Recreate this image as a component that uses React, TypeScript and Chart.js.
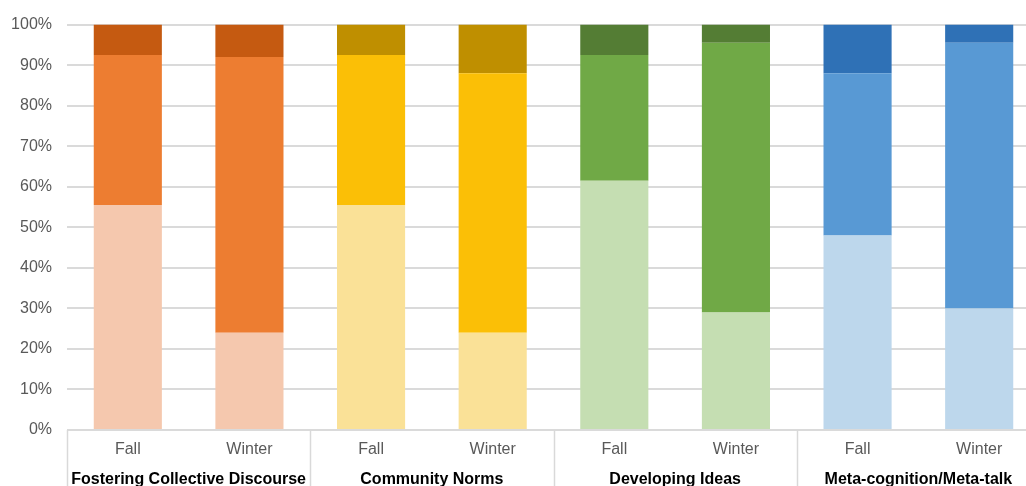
import React, { useEffect, useRef } from "react";
import { Chart, registerables } from "chart.js";

Chart.register(...registerables);

const groupLabels = [
  "Fostering Collective Discourse",
  "Community Norms",
  "Developing Ideas",
  "Meta-cognition/Meta-talk",
];
const periodLabels = ["Fall", "Winter", "Fall", "Winter", "Fall", "Winter", "Fall", "Winter"];

const lowValues = [55.5, 24, 55.5, 24, 61.5, 29, 48, 30];
const midValues = [37, 68, 37, 64, 31, 66.5, 40, 65.5];
const highValues = [7.5, 8, 7.5, 12, 7.5, 4.5, 12, 4.5];

const lowColors = ["#F5C8AE", "#F5C8AE", "#FAE197", "#FAE197", "#C5DEB2", "#C5DEB2", "#BDD7EC", "#BDD7EC"];
const midColors = ["#ED7D31", "#ED7D31", "#FBBF06", "#FBBF06", "#70A946", "#70A946", "#5899D4", "#5899D4"];
const highColors = ["#C55A11", "#C55A11", "#BF8F00", "#BF8F00", "#547D34", "#547D34", "#2F71B6", "#2F71B6"];

const yTicks = [0, 10, 20, 30, 40, 50, 60, 70, 80, 90, 100];

const FONT = "'Liberation Sans', Arial, Helvetica, sans-serif";

const groupPlugin = {
  id: "groupPlugin",
  afterDraw(chart: any) {
    const xs = chart.scales.x;
    const ctx = chart.ctx;
    const step = xs.getPixelForValue(1) - xs.getPixelForValue(0);
    ctx.save();
    ctx.strokeStyle = "#d9d9d9";
    ctx.lineWidth = 1.5;
    for (let g = 0; g <= groupLabels.length; g++) {
      const bx = Math.round(xs.getPixelForValue(2 * g) - step / 2) + 0.5;
      ctx.beginPath();
      ctx.moveTo(bx, chart.chartArea.bottom);
      ctx.lineTo(bx, chart.height);
      ctx.stroke();
    }
    ctx.fillStyle = "#000000";
    ctx.font = "bold 16px " + FONT;
    ctx.textAlign = "center";
    ctx.textBaseline = "alphabetic";
    groupLabels.forEach((lab, g) => {
      const cx = (xs.getPixelForValue(2 * g) + xs.getPixelForValue(2 * g + 1)) / 2;
      ctx.fillText(lab, cx, chart.height - 2);
    });
    ctx.restore();
  },
};

export default function App() {
  const ref = useRef<HTMLCanvasElement>(null);
  useEffect(() => {
    if (!ref.current) return;
    const chart = new Chart(ref.current, {
      type: "bar",
      data: {
        labels: periodLabels,
        datasets: [
          { label: "Low", data: lowValues, backgroundColor: lowColors, borderWidth: 0 },
          { label: "Mid", data: midValues, backgroundColor: midColors, borderWidth: 0 },
          { label: "High", data: highValues, backgroundColor: highColors, borderWidth: 0 },
        ],
      },
      options: {
        responsive: false,
        animation: false,
        layout: { padding: { top: 24, left: 0, right: 0, bottom: 0 } },
        plugins: { legend: { display: false }, tooltip: { enabled: false } },
        datasets: { bar: { categoryPercentage: 1, barPercentage: 0.56 } },
        scales: {
          x: {
            stacked: true,
            grid: { display: false, drawTicks: false },
            border: { display: false },
            ticks: { color: "#595959", font: { family: FONT, size: 16 }, padding: 10 },
            afterFit: (s: any) => {
              s.height = 56;
            },
          },
          y: {
            stacked: true,
            min: 0,
            max: 100,
            afterBuildTicks: (s: any) => {
              s.ticks = yTicks.map((v) => ({ value: v }));
            },
            grid: { color: "#dadada", lineWidth: 2, drawTicks: false },
            border: { display: false },
            ticks: {
              color: "#595959",
              font: { family: FONT, size: 16 },
              padding: 15,
              callback: (v: any) => v + "%",
            },
            afterFit: (s: any) => {
              s.width = 67;
            },
          },
        },
      },
      plugins: [groupPlugin],
    });
    return () => chart.destroy();
  }, []);
  return (
    <div style={{ position: "absolute", left: 0, top: 0, width: 1026, height: 486, overflow: "hidden", background: "#fff" }}>
      <canvas ref={ref} width={1040} height={486} style={{ display: "block" }} />
    </div>
  );
}
